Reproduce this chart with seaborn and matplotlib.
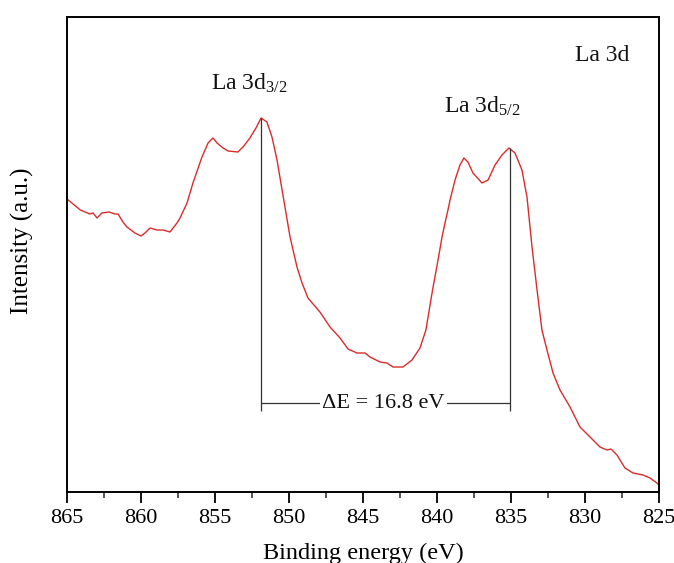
import numpy as np
import pandas as pd
import matplotlib
matplotlib.use("Agg")
import matplotlib.pyplot as plt
import seaborn as sns
from matplotlib.ticker import MultipleLocator

# ---- data (binding energy in eV, intensity in a.u.) ----
binding_energy = [865.00, 864.10, 863.45, 863.24, 862.97, 862.64, 862.16, 861.76, 861.55,
                  861.22, 860.95, 860.41, 860.00, 859.73, 859.39, 858.92, 858.51, 858.04,
                  857.57, 857.36, 856.89, 856.49, 855.88, 855.47, 855.14, 854.86, 854.46,
                  854.12, 853.45, 853.11, 852.64, 852.23, 851.89, 851.49, 851.15, 850.81,
                  850.41, 849.93, 849.46, 849.12, 848.72, 847.91, 847.23, 846.55, 846.01,
                  845.41, 844.86, 844.53, 843.85, 843.38, 842.97, 842.30, 841.69, 841.15,
                  840.75, 840.30, 839.93, 839.66, 839.46, 839.26, 839.12, 838.78, 838.45,
                  838.18, 837.91, 837.57, 836.96, 836.55, 836.08, 835.61, 835.14, 834.73,
                  834.26, 833.92, 833.58, 833.24, 832.91, 832.57, 832.16, 831.69, 831.01,
                  830.34, 829.66, 828.99, 828.51, 828.24, 827.84, 827.30, 826.76, 826.08,
                  825.61, 825.14, 825.00]
intensity = [293, 282, 278, 279, 274, 279, 280, 278, 278,
             270, 265, 259, 256, 259, 264, 262, 262, 260,
             269, 274, 289, 309, 335, 349, 354, 349, 344,
             341, 340, 345, 354, 364, 374, 370, 355, 332,
             297, 255, 225, 209, 194, 180, 165, 154, 143,
             139, 139, 135, 130, 129, 125, 125, 132, 144,
             162, 202, 232, 255, 269, 282, 292, 312, 327,
             334, 330, 319, 309, 312, 327, 337, 344, 339,
             322, 295, 245, 202, 162, 142, 119, 102, 85,
             65, 55, 45, 42, 43, 37, 24, 19, 17,
             14, 9, 7]

peak_labels = ["La 3d$_{3/2}$", "La 3d$_{5/2}$"]
peak_energies = [851.9, 835.1]
peak_heights = [374, 344]
delta_label = "\u0394E = 16.8 eV"
panel_label = "La 3d"
x_ticks = [865, 860, 855, 850, 845, 840, 835, 830, 825]

df = pd.DataFrame({"BE": binding_energy, "I": intensity})

sns.set_theme(style="ticks")
plt.rcParams["font.family"] = ["Liberation Serif", "DejaVu Serif"]
plt.rcParams["mathtext.fontset"] = "custom"
plt.rcParams["mathtext.rm"] = "Liberation Serif"
plt.rcParams["mathtext.it"] = "Liberation Serif:italic"

fig = plt.figure(figsize=(6.74, 5.63), dpi=100)
ax = fig.add_axes([67 / 674, 1 - 492 / 563, 592 / 674, 475 / 563])

sns.lineplot(data=df, x="BE", y="I", ax=ax, color="#dc2b2b", linewidth=1.0,
             estimator=None, sort=False)

ax.set_xlim(865, 825)
ax.set_ylim(0, 475)
ax.set_xticks(x_ticks)
ax.xaxis.set_minor_locator(MultipleLocator(2.5))
ax.set_yticks([])

for s in ax.spines.values():
    s.set_color("black")
    s.set_linewidth(1.4)

ax.tick_params(axis="x", which="major", direction="out", length=8, width=1.3,
               labelsize=16, pad=4, colors="black", bottom=True, top=False)
ax.tick_params(axis="x", which="minor", direction="out", length=4, width=1.1,
               bottom=True, top=False)

ax.set_xlabel("Binding energy (eV)", fontsize=17.5, color="black")
ax.set_ylabel("Intensity (a.u.)", fontsize=18, color="black")
ax.xaxis.set_label_coords(0.5, -0.108)
ax.yaxis.set_label_coords(-0.055, 0.53)

# peak markers and splitting
base_y = 81
bar_y = 89
ax.vlines(peak_energies, [base_y, base_y], peak_heights, color="#333333", linewidth=0.9)
ax.hlines(bar_y, peak_energies[0], peak_energies[1], color="#333333", linewidth=0.9)
ax.text((peak_energies[0] + peak_energies[1]) / 2 + 0.1, bar_y, delta_label, fontsize=16,
        ha="center", va="center", color="#111111",
        bbox=dict(facecolor="white", edgecolor="none", pad=1.5))

ax.text(855.3, 402, peak_labels[0], fontsize=17, ha="left", va="baseline", color="#111111")
ax.text(839.5, 379, peak_labels[1], fontsize=17, ha="left", va="baseline", color="#111111")
ax.text(830.7, 431, panel_label, fontsize=17, ha="left", va="baseline", color="#111111")

fig.savefig("out.png", dpi=100)
